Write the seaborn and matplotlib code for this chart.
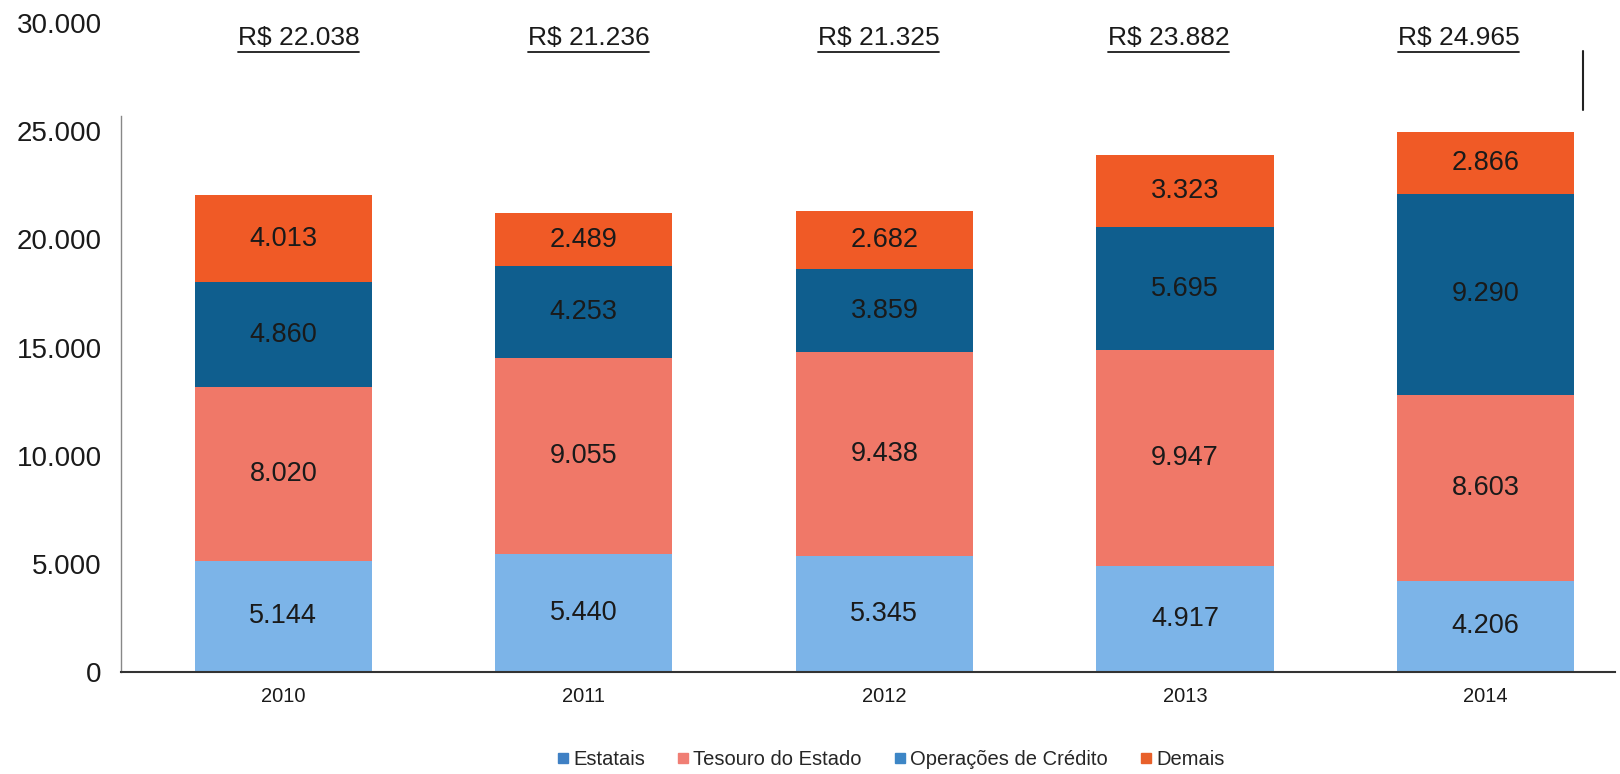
import numpy as np
import pandas as pd
import matplotlib
matplotlib.use("Agg")
import matplotlib.pyplot as plt
from matplotlib.lines import Line2D
import seaborn as sns

years = ["2010", "2011", "2012", "2013", "2014"]
estatais = [5144, 5440, 5345, 4917, 4206]
tesouro = [8020, 9055, 9438, 9947, 8603]
operacoes = [4860, 4253, 3859, 5695, 9290]
demais = [4013, 2489, 2682, 3323, 2866]
totais = [22038, 21236, 21325, 23882, 24965]

series_names = ["Estatais", "Tesouro do Estado", "Operações de Crédito", "Demais"]
bar_colors = ["#7cb4e8", "#f07868", "#0f5e8e", "#f05a26"]
legend_colors = ["#3f80c4", "#f07e74", "#3d86c6", "#e8602a"]

df = pd.DataFrame({"ano": years, "Estatais": estatais, "Tesouro do Estado": tesouro,
                   "Operações de Crédito": operacoes, "Demais": demais})

sns.set_theme(style="white")
plt.rcParams["font.family"] = ["Liberation Sans", "DejaVu Sans"]

fig = plt.figure(figsize=(16.2, 7.74), dpi=100)
ax = fig.add_axes([0.0747, 0.132, 0.922, 0.838])

# stacked bars: draw cumulative heights from the top down
cum = df[series_names].cumsum(axis=1)
for name, color in reversed(list(zip(series_names, bar_colors))):
    sns.barplot(x=df["ano"], y=cum[name], color=color, width=0.59,
                saturation=1, ax=ax, edgecolor="none")

def fmt(v):
    return f"{int(v):,}".replace(",", ".")

for i in range(len(years)):
    bottom = 0
    for name in series_names:
        v = df[name].iloc[i]
        ax.text(i, bottom + v / 2, fmt(v), ha="center", va="center",
                fontsize=19.5, color="#1a1a1a")
        bottom += v

ax.set_ylim(0, 30000)
ax.set_xlim(-0.54, 4.43)
ax.set_yticks(np.arange(0, 30001, 5000))
ax.yaxis.set_major_formatter(matplotlib.ticker.FuncFormatter(lambda v, p: fmt(v)))
ax.tick_params(axis="y", labelsize=20, length=0, pad=14, labelcolor="#1a1a1a")
ax.tick_params(axis="x", labelsize=14.5, length=0, pad=11, labelcolor="#1a1a1a")
ax.set_xlabel("")
ax.set_ylabel("")

for s in ["top", "right"]:
    ax.spines[s].set_visible(False)
ax.spines["left"].set_color("#888888")
ax.spines["left"].set_linewidth(1)
ax.spines["left"].set_bounds(0, 25700)
ax.spines["bottom"].set_color("#333333")
ax.spines["bottom"].set_linewidth(1.5)

# totals above the bars, underlined (the scan places them slightly off the bar centres)
labels = []
for i, t in enumerate(totais):
    labels.append(ax.text(i * 0.965 + 0.05, 29300, "R$ " + fmt(t), ha="center",
                          va="center", fontsize=19, color="#1a1a1a"))
fig.canvas.draw()
renderer = fig.canvas.get_renderer()
inv = ax.transData.inverted()
for txt in labels:
    bb = txt.get_window_extent(renderer)
    (x0, y0), (x1, _) = inv.transform([(bb.x0, bb.y0 - 2), (bb.x1, bb.y0)])
    ax.plot([x0, x1], [y0, y0], color="#1a1a1a", lw=1.3, clip_on=False)

# stray vertical mark at top right of the scan
fig.add_artist(Line2D([0.977, 0.977], [0.858, 0.934], color="#222222", lw=1.5))

handles = [Line2D([], [], marker="s", linestyle="none", markersize=7,
                  markerfacecolor=c, markeredgecolor=c) for c in legend_colors]
fig.legend(handles, series_names, loc="lower center", bbox_to_anchor=(0.548, -0.017),
           ncol=4, frameon=False, fontsize=14.5, handletextpad=-0.1,
           columnspacing=1.3, handlelength=1.2)

fig.savefig("out.png", dpi=100)
